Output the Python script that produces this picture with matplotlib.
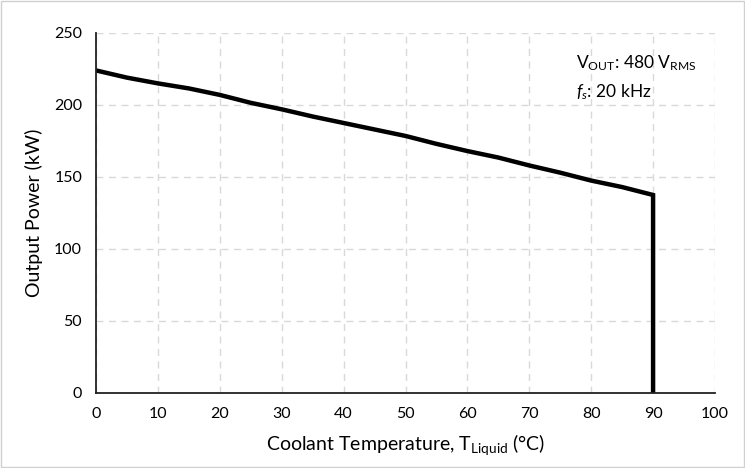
import matplotlib
matplotlib.use("Agg")
import matplotlib.pyplot as plt
from matplotlib.patches import Rectangle

temps = [0, 5, 10, 15, 20, 25, 30, 35, 40, 45, 50, 55, 60, 65, 70, 75, 80, 85, 90, 90]
power = [224, 219, 215, 211.5, 207, 201.5, 197, 192, 187.5, 183, 178.5, 173, 168, 163.5, 158, 153, 147.5, 143, 137.5, 0]
x_ticks = [0, 10, 20, 30, 40, 50, 60, 70, 80, 90, 100]
y_ticks = [0, 50, 100, 150, 200, 250]

plt.rcParams['font.family'] = ['Lato', 'DejaVu Sans']
plt.rcParams['mathtext.fontset'] = 'custom'
plt.rcParams['mathtext.rm'] = 'Lato'
plt.rcParams['mathtext.it'] = 'Lato:italic'

fig = plt.figure(figsize=(7.45, 4.68), dpi=100)
ax = fig.add_axes([0.1289, 0.1603, 0.8308, 0.7692])
ax.plot(temps, power, color='black', lw=3.2, solid_joinstyle='miter')
ax.set_xlim(0, 100)
ax.set_ylim(0, 250)
ax.set_xticks(x_ticks)
ax.set_yticks(y_ticks)
ax.grid(True, color='#d9d9d9', linestyle=(0, (5, 4)), lw=1)
ax.set_axisbelow(True)
for s in ['top', 'right']:
    ax.spines[s].set_visible(False)
ax.spines['left'].set_color('#222222')
ax.spines['bottom'].set_color('#222222')
ax.spines['left'].set_linewidth(1.3)
ax.spines['bottom'].set_linewidth(1.3)
ax.tick_params(length=0, labelsize=11.5, pad=10)
ax.set_xlabel(r'Coolant Temperature, T$_{\mathrm{Liquid}}$ (°C)', fontsize=14, labelpad=8)
ax.set_ylabel('Output Power (kW)', fontsize=14, labelpad=8)
ax.text(0.775, 0.915, r'V$_{\mathrm{OUT}}$: 480 V$_{\mathrm{RMS}}$', transform=ax.transAxes, fontsize=12.5, va='center')
ax.text(0.775, 0.835, r'$f_{s}$: 20 kHz', transform=ax.transAxes, fontsize=12.5, va='center')
fig.add_artist(Rectangle((0.002, 0.002), 0.996, 0.996, transform=fig.transFigure, fill=False, edgecolor='#d0d0d0', lw=1))
fig.savefig('out.png', dpi=100)
